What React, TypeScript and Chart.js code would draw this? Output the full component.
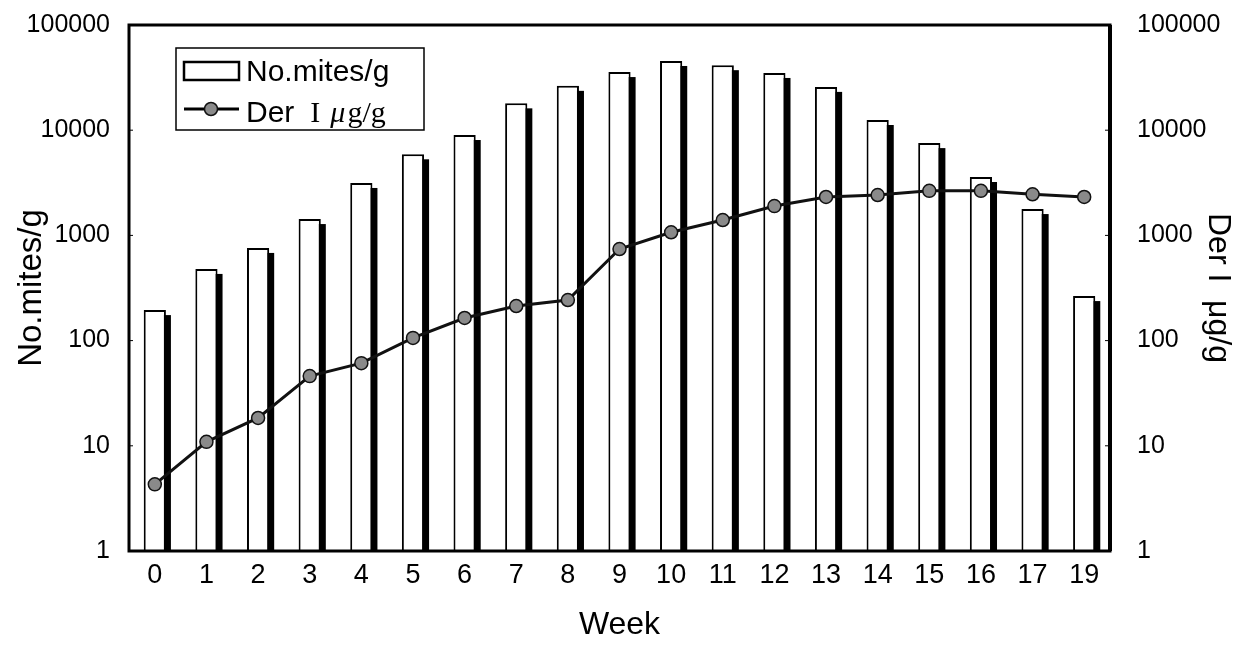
import React, { useEffect, useRef } from 'react';
import { Chart, registerables } from 'chart.js';

Chart.register(...registerables);

const weeks = ['0', '1', '2', '3', '4', '5', '6', '7', '8', '9', '10', '11', '12', '13', '14', '15', '16', '17', '19'];
const mitesPerGram = [195, 480, 760, 1430, 3150, 5900, 9000, 18000, 26400, 35700, 45500, 41500, 35000, 25800, 12500, 7540, 3590, 1780, 265];
const derIPerGram = [4.3, 10.9, 18.4, 46, 61, 106, 164, 213, 243, 742, 1070, 1400, 1900, 2320, 2420, 2650, 2650, 2460, 2320];
const logTicks = [1, 10, 100, 1000, 10000, 100000];
const seriesNames = ['No.mites/g', 'Der Ⅰ μg/g'];

const SANS = "'Liberation Sans', Arial, sans-serif";

const shadowPlugin = {
  id: 'barShadow',
  beforeDatasetDraw(chart: any, args: any) {
    if (args.index !== 0) return;
    const { ctx, chartArea } = chart;
    const meta = chart.getDatasetMeta(0);
    ctx.save();
    ctx.beginPath();
    ctx.rect(chartArea.left, chartArea.top, chartArea.right - chartArea.left, chartArea.bottom - chartArea.top);
    ctx.clip();
    ctx.fillStyle = '#000';
    const off = 5;
    meta.data.forEach((el: any) => {
      const w = el.width;
      ctx.fillRect(el.x - w / 2 + off, el.y + off, w, el.base - el.y);
    });
    ctx.restore();
  },
};

const framePlugin = {
  id: 'frame',
  afterDatasetsDraw(chart: any) {
    const { ctx, chartArea: a } = chart;
    ctx.save();
    ctx.strokeStyle = '#000';
    ctx.lineWidth = 3;
    ctx.strokeRect(a.left, a.top, a.right - a.left, a.bottom - a.top);
    ctx.lineWidth = 4;
    ctx.beginPath();
    ctx.moveTo(a.right, a.top);
    ctx.lineTo(a.right, a.bottom);
    ctx.stroke();
    const yS = chart.scales.y;
    ctx.lineWidth = 1;
    logTicks.forEach((v) => {
      const py = yS.getPixelForValue(v);
      ctx.beginPath();
      ctx.moveTo(a.left, py);
      ctx.lineTo(a.left + 4, py);
      ctx.moveTo(a.right, py);
      ctx.lineTo(a.right - 5, py);
      ctx.stroke();
    });
    ctx.restore();
  },
};

const legendPlugin = {
  id: 'innerLegend',
  afterDraw(chart: any) {
    const { ctx } = chart;
    ctx.save();
    ctx.fillStyle = '#fff';
    ctx.fillRect(176, 48, 248, 82);
    ctx.strokeStyle = '#000';
    ctx.lineWidth = 1.5;
    ctx.strokeRect(176, 48, 248, 82);
    ctx.lineWidth = 2.5;
    ctx.strokeRect(184, 62, 55, 18);
    ctx.lineWidth = 3;
    ctx.beginPath();
    ctx.moveTo(184, 109);
    ctx.lineTo(239, 109);
    ctx.stroke();
    ctx.beginPath();
    ctx.arc(211, 109, 6.5, 0, Math.PI * 2);
    ctx.fillStyle = '#8a8a8a';
    ctx.fill();
    ctx.lineWidth = 1.5;
    ctx.strokeStyle = '#111';
    ctx.stroke();
    ctx.fillStyle = '#000';
    ctx.textBaseline = 'alphabetic';
    ctx.textAlign = 'left';
    ctx.font = `30px ${SANS}`;
    ctx.fillText(seriesNames[0], 246, 81);
    ctx.fillText('Der', 246, 122);
    let x = 246 + ctx.measureText('Der').width + 16;
    ctx.font = `30px 'Liberation Serif', 'Noto Sans CJK JP', serif`;
    ctx.fillText('I', x, 122);
    x += ctx.measureText('I').width + 10;
    ctx.font = `italic 30px 'Liberation Serif', serif`;
    ctx.fillText('μ', x, 122);
    x += ctx.measureText('μ').width + 2;
    ctx.font = `30px 'Liberation Serif', serif`;
    ctx.fillText('g/g', x, 122);
    ctx.restore();
  },
};

export default function App() {
  const ref = useRef<HTMLCanvasElement | null>(null);

  useEffect(() => {
    document.body.style.margin = '0';
    const canvas = ref.current;
    if (!canvas) return;
    const chart = new Chart(canvas, {
      type: 'bar',
      data: {
        labels: weeks,
        datasets: [
          {
            type: 'bar',
            label: seriesNames[0],
            data: mitesPerGram,
            backgroundColor: '#ffffff',
            borderColor: '#000000',
            borderWidth: 2,
            borderSkipped: 'bottom',
            categoryPercentage: 1,
            barPercentage: 0.43,
            yAxisID: 'y',
            order: 1,
          },
          {
            type: 'line',
            label: seriesNames[1],
            data: derIPerGram,
            borderColor: '#111111',
            borderWidth: 3,
            pointRadius: 6.5,
            pointBackgroundColor: '#8a8a8a',
            pointBorderColor: '#111111',
            pointBorderWidth: 1.5,
            tension: 0,
            yAxisID: 'y2',
            order: 0,
          },
        ],
      },
      options: {
        responsive: true,
        maintainAspectRatio: false,
        animation: false,
        layout: { autoPadding: false, padding: { top: 25, left: 0, right: 0, bottom: 0 } },
        plugins: {
          legend: { display: false },
          tooltip: { enabled: false },
        },
        scales: {
          x: {
            grid: { display: false, drawTicks: false },
            border: { display: false },
            ticks: { color: '#000', font: { family: SANS, size: 27 }, padding: 8, maxRotation: 0, autoSkip: false },
            title: { display: true, text: 'Week', color: '#000', font: { family: SANS, size: 32 }, padding: { top: 0, bottom: 20 } },
            afterFit: (s: any) => { s.height = 113; s.paddingLeft = 0; s.paddingRight = 0; },
          },
          y: {
            type: 'logarithmic',
            position: 'left',
            min: 1,
            max: 100000,
            grid: { display: false, drawTicks: false },
            border: { display: false },
            afterBuildTicks: (s: any) => { s.ticks = logTicks.map((v) => ({ value: v })); },
            ticks: { color: '#000', font: { family: SANS, size: 25 }, padding: 19, callback: (v: any) => String(v) },
            title: { display: true, text: seriesNames[0], color: '#000', font: { family: SANS, size: 33 }, padding: { top: 12, bottom: 0 } },
            afterFit: (s: any) => { s.width = 129; s.paddingTop = 0; s.paddingBottom = 0; },
          },
          y2: {
            type: 'logarithmic',
            position: 'right',
            min: 1,
            max: 100000,
            grid: { display: false, drawTicks: false },
            border: { display: false },
            afterBuildTicks: (s: any) => { s.ticks = logTicks.map((v) => ({ value: v })); },
            ticks: { color: '#000', font: { family: SANS, size: 25 }, padding: 27, callback: (v: any) => String(v) },
            title: { display: true, text: 'Der I  μg/g', color: '#000', font: { family: SANS, size: 32 }, padding: { top: 7, bottom: 0 } },
            afterFit: (s: any) => { s.width = 134; s.paddingTop = 0; s.paddingBottom = 0; },
          },
        },
      },
      plugins: [shadowPlugin, framePlugin, legendPlugin],
    } as any);
    return () => chart.destroy();
  }, []);

  return (
    <div style={{ position: 'absolute', left: 0, top: 0, width: 1244, height: 664, background: '#fff' }}>
      <canvas ref={ref} />
    </div>
  );
}
